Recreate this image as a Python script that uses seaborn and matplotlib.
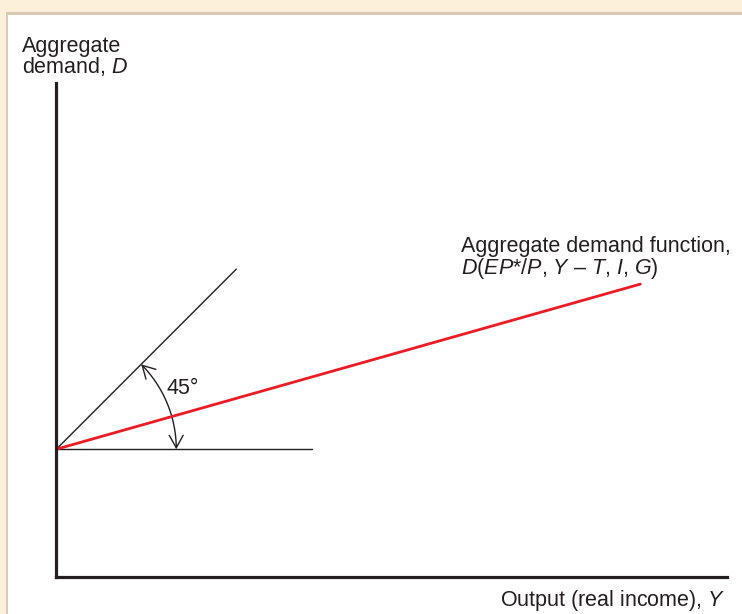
import numpy as np
import matplotlib
matplotlib.use("Agg")
import matplotlib.pyplot as plt
import seaborn as sns
import pandas as pd
from matplotlib.patches import Rectangle, FancyArrowPatch
from matplotlib.path import Path

# ---- data (diagram units) ----
x_max = 671
y_max = 494
intercept = 128            # autonomous demand where lines start
ad_x = [0, 584]            # aggregate demand function
ad_y = [128, 293]
line45_x = [0, 180]        # 45-degree reference line
line45_y = [128, 308]
flat_x = [0, 256]          # horizontal reference line
flat_y = [128, 128]
arc_radius = 120
arc_deg = 45

sns.set_theme(style="white")
plt.rcParams['font.family'] = ['Liberation Sans', 'DejaVu Sans']
plt.rcParams['mathtext.fontset'] = 'custom'
plt.rcParams['mathtext.it'] = 'Liberation Sans:italic'
plt.rcParams['mathtext.rm'] = 'Liberation Sans'

fig = plt.figure(figsize=(7.42, 6.14), dpi=100, facecolor='white')
W, H = 742, 614

# decorative frame
fig.add_artist(Rectangle((0, 1 - 12 / H), 1, 12 / H, transform=fig.transFigure,
                         facecolor='#FDF0DA', edgecolor='none', zorder=0))
fig.add_artist(Rectangle((0, 0), 6 / W, 1, transform=fig.transFigure,
                         facecolor='#FDF0DA', edgecolor='none', zorder=0))
fig.add_artist(Rectangle((6 / W, 1 - 14.5 / H), 1, 2.5 / H, transform=fig.transFigure,
                         facecolor='#D8CAB4', edgecolor='none', zorder=0))
fig.add_artist(Rectangle((6 / W, 0), 2.2 / W, 1 - 12 / H, transform=fig.transFigure,
                         facecolor='#D8CAB4', edgecolor='none', zorder=0))

left, right, top, bottom = 56.3, 727.3, 83, 577.3
ax = fig.add_axes([left / W, 1 - bottom / H, (right - left) / W, (bottom - top) / H])
ax.set_facecolor('none')
ax.set_xlim(0, x_max)
ax.set_ylim(0, y_max)

black = '#231F20'
df_ad = pd.DataFrame({'x': ad_x, 'y': ad_y})
df_45 = pd.DataFrame({'x': line45_x, 'y': line45_y})
df_flat = pd.DataFrame({'x': flat_x, 'y': flat_y})
sns.lineplot(data=df_45, x='x', y='y', ax=ax, color=black, lw=1.0)
sns.lineplot(data=df_flat, x='x', y='y', ax=ax, color=black, lw=1.0)
sns.lineplot(data=df_ad, x='x', y='y', ax=ax, color='#ED1C24', lw=2.0)

for s in ['top', 'right']:
    ax.spines[s].set_visible(False)
for s in ['left', 'bottom']:
    ax.spines[s].set_color(black)
    ax.spines[s].set_linewidth(2.3)
ax.set_xticks([])
ax.set_yticks([])
ax.set_xlabel('')
ax.set_ylabel('')

# 45-degree arc with arrows
th = np.radians(np.linspace(arc_deg, 0, 60))
verts = np.column_stack([arc_radius * np.cos(th), intercept + arc_radius * np.sin(th)])
codes = [Path.MOVETO] + [Path.LINETO] * (len(verts) - 1)
arc = FancyArrowPatch(path=Path(verts, codes), arrowstyle='<->,head_length=9,head_width=5',
                      color=black, lw=1.0, shrinkA=0, shrinkB=0)
ax.add_patch(arc)
ax.text(110, 189, '45°', fontsize=15.5, color=black, ha='left', va='center')

fs = 15.5
fig.text(22 / W, 1 - 52 / H, 'Aggregate', fontsize=fs, color=black, ha='left', va='baseline')
fig.text(22 / W, 1 - 73 / H, 'demand, $D$', fontsize=fs, color=black, ha='left', va='baseline')
fig.text(461 / W, 1 - 252 / H, 'Aggregate demand function,', fontsize=fs, color=black,
         ha='left', va='baseline')
fig.text(461 / W, 1 - 274 / H, '$D$($EP$*/$P$, $Y$ – $T$, $I$, $G$)', fontsize=fs, color=black,
         ha='left', va='baseline')
fig.text(726 / W, 1 - 606 / H, 'Output (real income), $Y$', fontsize=fs, color=black,
         ha='right', va='baseline')

fig.savefig('out.png', dpi=100, facecolor='white')
